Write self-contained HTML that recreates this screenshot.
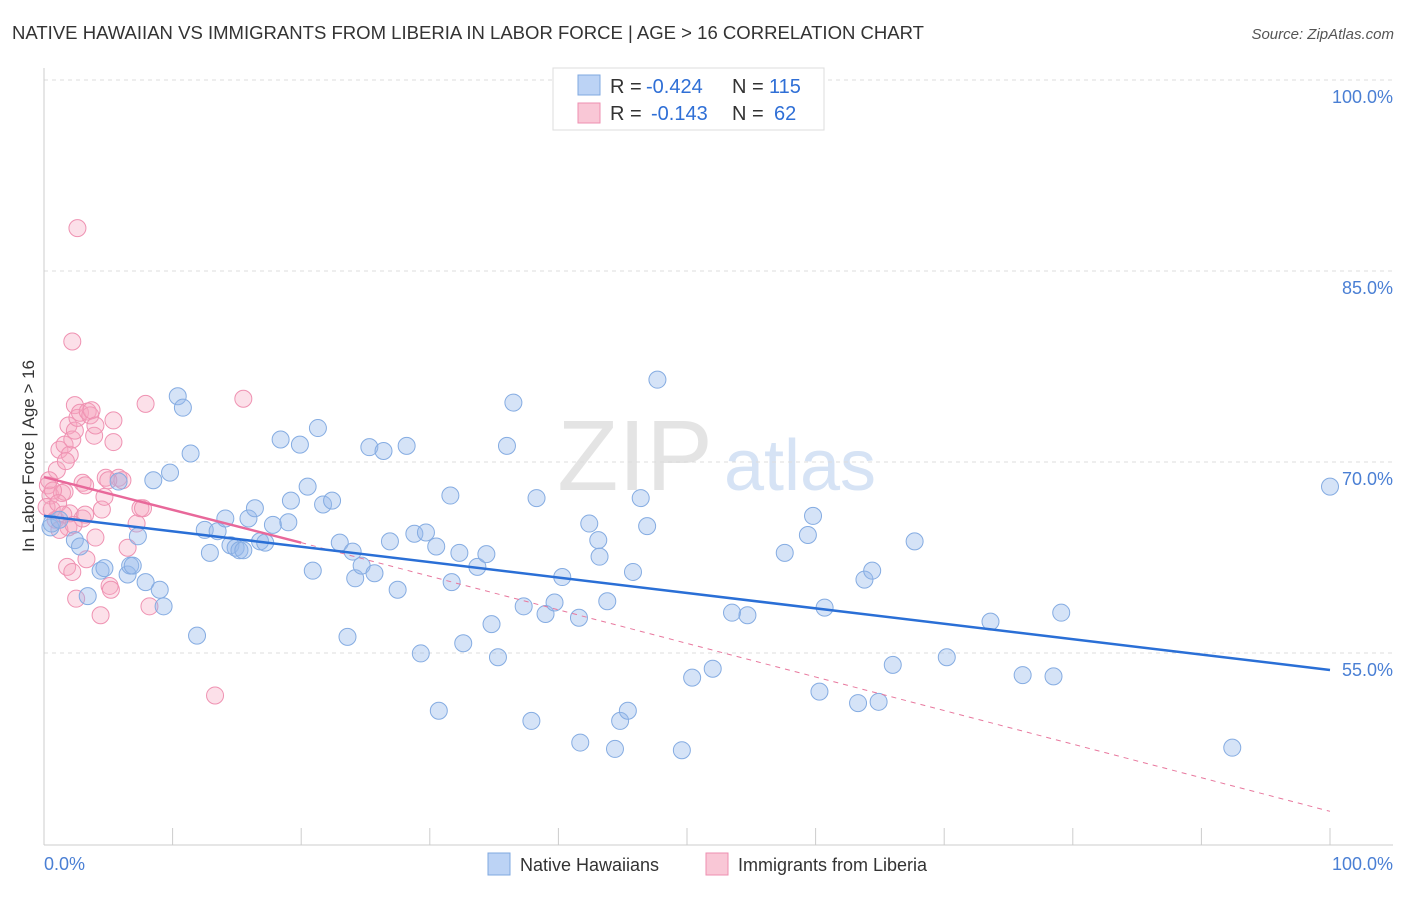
<!DOCTYPE html>
<html><head><meta charset="utf-8">
<style>
body{margin:0;background:#fff;font-family:"Liberation Sans",sans-serif;}
svg text{font-family:"Liberation Sans",sans-serif;}
</style></head>
<body>
<svg id="chart" width="1406" height="892" viewBox="0 0 1406 892" xmlns="http://www.w3.org/2000/svg">
<text x="12" y="39" font-size="18.4" fill="#333" textLength="912" lengthAdjust="spacingAndGlyphs">NATIVE HAWAIIAN VS IMMIGRANTS FROM LIBERIA IN LABOR FORCE | AGE &gt; 16 CORRELATION CHART</text>
<text x="1394" y="39" font-size="15" fill="#555" font-style="italic" text-anchor="end">Source: ZipAtlas.com</text>
<g>
<text x="635" y="490" font-size="100" fill="#e4e4e4" font-family="Liberation Serif" text-anchor="middle">ZIP</text>
<text x="800" y="490" font-size="72" fill="#d6e3f5" text-anchor="middle">atlas</text>
</g>
<g id="grid"></g>
<g id="axes">
<line x1="44" y1="68" x2="44" y2="845" stroke="#ccc" stroke-width="1"/>
<line x1="44" y1="845" x2="1393" y2="845" stroke="#ccc" stroke-width="1"/>
</g>
<g id="pinkPts"></g>
<g id="bluePts"></g>
<g id="lines"></g>
<text transform="translate(34,456) rotate(-90)" font-size="17" fill="#333" text-anchor="middle">In Labor Force | Age &gt; 16</text>
<text x="44" y="870" font-size="18" fill="#4a7fd4">0.0%</text>
<text x="1393" y="870" font-size="18" fill="#4a7fd4" text-anchor="end">100.0%</text>
<g font-size="20">
<rect x="553" y="68" width="271" height="62" fill="#fff" stroke="#ddd"/>
<rect x="578" y="75" width="22" height="20" fill="#bcd3f5" stroke="#7fa8e0"/>
<rect x="578" y="103" width="22" height="20" fill="#f9c7d6" stroke="#ee8fb0"/>
<text x="610" y="93" fill="#333">R =</text>
<text x="646" y="93" fill="#2f6fd6">-0.424</text>
<text x="732" y="93" fill="#333">N =</text>
<text x="769" y="93" fill="#2f6fd6">115</text>
<text x="610" y="120" fill="#333">R =</text>
<text x="651" y="120" fill="#2f6fd6">-0.143</text>
<text x="732" y="120" fill="#333">N =</text>
<text x="774" y="120" fill="#2f6fd6">62</text>
</g>
<g>
<rect x="488" y="853" width="22" height="22" fill="#bcd3f5" stroke="#7fa8e0"/>
<text x="520" y="871" font-size="18" fill="#333">Native Hawaiians</text>
<rect x="706" y="853" width="22" height="22" fill="#f9c7d6" stroke="#ee8fb0"/>
<text x="738" y="871" font-size="18" fill="#333">Immigrants from Liberia</text>
</g>
</svg>
<script>
const yTicks=[100,85,70,55];
const yTickLabels=["100.0%","85.0%","70.0%","55.0%"];
const xTicks=[0,10,20,30,40,50,60,70,80,90,100];
const blueX=[0.5,0.6,1.2,2.4,2.8,3.4,4.4,4.7,5.8,6.5,6.7,6.9,7.3,7.9,8.5,9.0,9.3,9.8,10.4,10.8,11.4,11.9,12.5,12.9,13.5,14.1,14.5,14.9,15.2,15.5,15.9,16.4,16.8,17.2,17.8,18.4,19.0,19.2,19.9,20.5,20.9,21.3,21.7,22.4,23.0,23.6,24.0,24.2,24.7,25.3,25.7,26.4,26.9,27.5,28.2,28.8,29.3,29.7,30.5,30.7,31.6,31.7,32.3,32.6,33.7,34.4,34.8,35.3,36.0,36.5,37.3,37.9,38.3,39.0,39.7,40.3,41.6,41.7,42.4,43.1,43.2,43.8,44.4,44.8,45.4,45.8,46.4,46.9,47.7,49.6,50.4,52.0,53.5,54.7,57.6,59.4,59.8,60.3,60.7,63.3,63.8,64.4,64.9,66.0,67.7,70.2,73.6,76.1,78.5,79.1,92.4,100.0];
const blueY=[66.2,66.5,66.8,65.2,64.7,60.8,62.8,63.0,69.8,62.5,63.2,63.2,65.5,61.9,69.9,61.3,60.0,70.5,76.5,75.6,72.0,57.7,66.0,64.2,65.9,66.9,64.8,64.6,64.4,64.4,66.9,67.7,65.1,65.0,66.4,73.1,66.6,68.3,72.7,69.4,62.8,74.0,68.0,68.3,65.0,57.6,64.3,62.2,63.2,72.5,62.6,72.2,65.1,61.3,72.6,65.7,56.3,65.8,64.7,51.8,68.7,61.9,64.2,57.1,63.1,64.1,58.6,56.0,72.6,76.0,60.0,51.0,68.5,59.4,60.3,62.3,59.1,49.3,66.5,65.2,63.9,60.4,48.8,51.0,51.8,62.7,68.5,66.3,77.8,48.7,54.4,55.1,59.5,59.3,64.2,65.6,67.1,53.3,59.9,52.4,62.1,62.8,52.5,55.4,65.1,56.0,58.8,54.6,54.5,59.5,48.9,69.4];
const pinkX=[0.3,0.5,0.6,0.9,1.0,1.2,1.4,1.6,1.6,1.8,1.9,1.9,2.0,2.0,2.2,2.2,2.2,2.4,2.5,2.4,2.6,2.6,2.8,3.0,3.0,3.2,3.3,3.4,3.6,3.7,3.9,4.0,4.0,4.4,4.5,4.7,4.8,5.1,5.4,5.4,5.8,6.1,6.5,7.2,7.5,7.7,7.9,8.2,13.3,15.5,0.2,0.4,0.7,1.1,1.5,1.7,3.2,5.0,5.2,1.2,2.3];
const pinkY=[69.5,68.7,67.6,66.8,70.7,72.3,68.9,69.0,72.7,63.1,74.2,66.2,67.3,71.9,80.8,62.7,73.1,75.8,60.6,73.8,89.7,74.8,75.2,66.9,69.7,67.2,63.7,75.3,75.0,75.4,73.4,74.2,65.4,59.3,67.6,68.6,70.1,61.6,72.9,74.6,70.1,69.9,64.6,66.5,67.7,67.7,75.9,60.0,53.0,76.3,67.8,69.9,69.1,68.1,67.2,71.4,69.5,69.9,61.3,66.0,66.4];
const blueTrend=[67.1,55.0];
const pinkTrend=[70.15,65.0,43.9];
const NS="http://www.w3.org/2000/svg";
function xs(v){return 44+v*12.86;}
function ys(v){return 97+(100-v)*12.733;}
function mk(t,a,p){const e=document.createElementNS(NS,t);for(const k in a)e.setAttribute(k,a[k]);p.appendChild(e);return e;}
const grid=document.getElementById('grid');
yTicks.forEach((v,i)=>{
 const l=mk('line',{x1:44,x2:1393,y1:ys(v)-17,y2:ys(v)-17,stroke:'#ddd','stroke-dasharray':'4,4'},grid);
 
 
 const t=mk('text',{x:1393,y:ys(v)+6,'font-size':18,fill:'#4a7fd4','text-anchor':'end'},grid);
 t.textContent=yTickLabels[i];
 
 
});
const axes=document.getElementById('axes');
xTicks.forEach(v=>{
 const l=mk('line',{x1:xs(v),x2:xs(v),y1:828,y2:845,stroke:'#ccc'},axes);
 
 
});
const pg=document.getElementById('pinkPts');
pinkX.forEach((x,i)=>{
 const c=mk('circle',{cx:xs(x),cy:ys(pinkY[i]),r:8.5,fill:'rgba(245,165,192,0.35)',stroke:'#ef92b2','stroke-width':1},pg);
 
 
});
const bg=document.getElementById('bluePts');
blueX.forEach((x,i)=>{
 const c=mk('circle',{cx:xs(x),cy:ys(blueY[i]),r:8.5,fill:'rgba(150,185,235,0.4)',stroke:'#85ace2','stroke-width':1},bg);
 
 
});
const lg=document.getElementById('lines');
const pd=mk('line',{x1:xs(20),y1:ys(pinkTrend[1]),x2:xs(100),y2:ys(pinkTrend[2]),stroke:'#e8789e','stroke-width':1,'stroke-dasharray':'5,5'},lg);


const ps=mk('line',{x1:xs(0),y1:ys(pinkTrend[0]),x2:xs(20),y2:ys(pinkTrend[1]),stroke:'#e8689a','stroke-width':2.5},lg);


const bl=mk('line',{x1:xs(0),y1:ys(blueTrend[0]),x2:xs(100),y2:ys(blueTrend[1]),stroke:'#2a6fd6','stroke-width':2.5},lg);


</script>
</body></html>
